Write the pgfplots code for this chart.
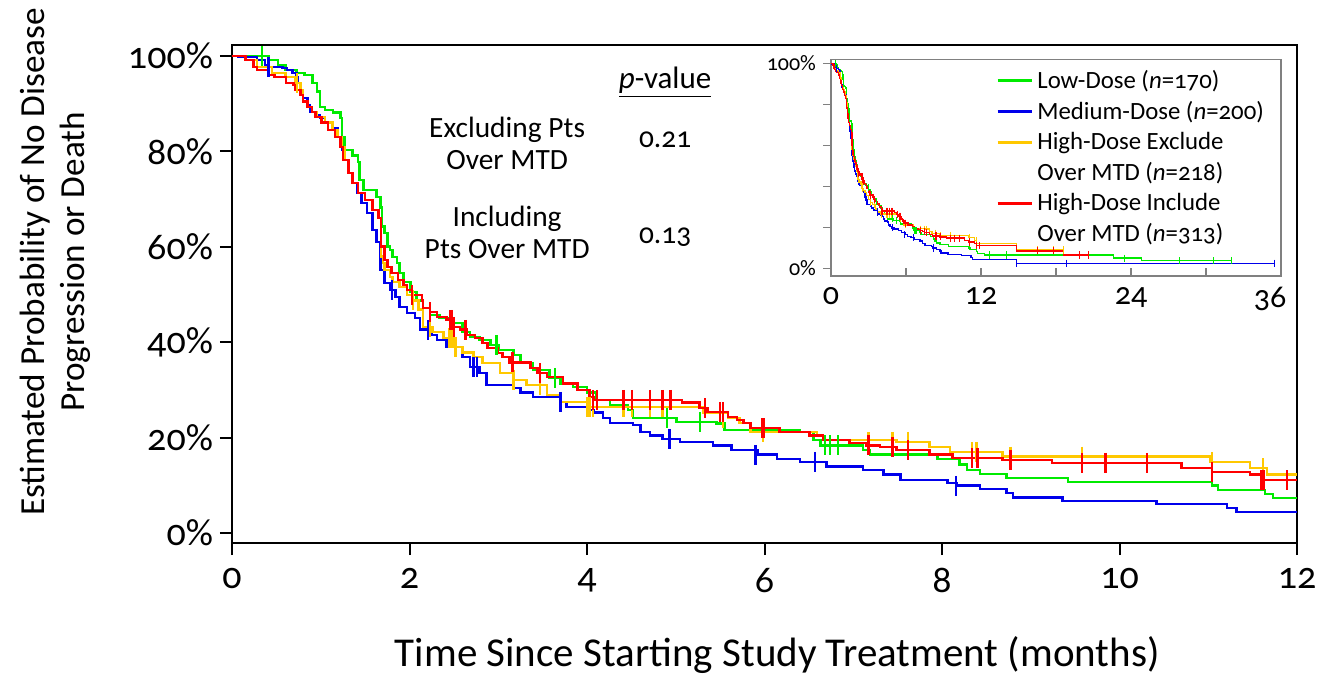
\documentclass[border=0pt]{standalone}
\usepackage{pgfplots}
\pgfplotsset{compat=1.18}
\usepackage{pgfplotstable}
\usepackage{fontspec}
\setmainfont{Carlito}[Numbers=OldStyle]

\definecolor{cLow}{RGB}{0,235,0}
\definecolor{cMed}{RGB}{0,0,235}
\definecolor{cHEx}{RGB}{255,200,0}
\definecolor{cHIn}{RGB}{255,0,0}

% Kaplan-Meier steps: value y holds from x on (months, %)
\pgfplotstableread{
x y
0 100
0.34 100
0.41 99.2
0.52 98.1
0.60 97.1
0.73 96.4
0.82 96.0
0.91 94.3
0.96 92.5
0.99 89.3
1.05 88.7
1.14 88.1
1.22 87.0
1.24 83.0
1.27 80.3
1.36 79.2
1.42 77.8
1.44 74.0
1.48 71.9
1.63 70.4
1.67 68.3
1.69 64.2
1.72 62.9
1.75 60.0
1.78 59.3
1.81 57.9
1.86 56.6
1.89 54.5
1.93 52.6
2.01 50.5
2.08 48.8
2.15 47.2
2.23 45.7
2.34 45.1
2.49 44.0
2.60 42.1
2.68 41.1
2.79 40.5
2.91 39.4
3.00 38.4
3.17 37.3
3.25 35.6
3.39 34.2
3.58 32.5
3.70 31.4
3.84 30.6
4.00 29.4
4.11 27.9
4.26 26.8
4.46 25.8
4.52 24.1
5.01 23.3
5.46 22.9
5.55 21.6
6.40 21.2
6.55 19.5
6.63 18.4
7.11 17.4
7.19 16.4
7.95 15.5
8.20 14.3
8.28 13.2
8.43 12.4
8.73 11.5
9.42 10.7
11.04 9.9
11.11 9.0
11.64 8.2
11.73 7.3
12.00 7.3
12.3 6.5
22.6 4.9
24.85 3.7
32.05 3.7
}\lowKM

\pgfplotstableread{
x y
0 100
0.07 99.8
0.28 99.2
0.37 98.1
0.41 97.7
0.57 97.5
0.62 97.1
0.68 96.4
0.73 95.6
0.74 94.3
0.77 92.9
0.80 91.2
0.85 89.7
0.88 88.3
0.94 87.6
0.99 87.0
1.05 86.0
1.13 84.9
1.19 83.0
1.24 80.3
1.27 78.2
1.31 75.5
1.35 73.4
1.41 71.3
1.46 69.2
1.52 67.1
1.58 63.5
1.63 61.0
1.67 55.1
1.72 52.4
1.78 50.9
1.84 49.5
1.89 47.4
1.97 46.1
2.06 45.1
2.12 42.6
2.25 41.5
2.31 40.5
2.42 39.0
2.60 36.9
2.68 34.8
2.79 33.5
2.87 31.0
3.17 30.4
3.25 29.4
3.39 28.5
3.70 27.5
3.77 26.4
4.00 25.8
4.07 25.2
4.18 24.1
4.26 23.1
4.52 22.6
4.60 21.2
4.71 20.5
4.85 19.7
5.05 19.1
5.42 18.4
5.63 17.4
5.92 16.4
6.14 15.5
6.40 14.9
6.70 14.0
7.11 13.2
7.34 12.2
7.53 11.1
8.06 10.5
8.17 9.9
8.43 9.2
8.73 8.4
8.80 7.5
9.36 6.7
10.42 6.1
11.21 5.2
11.32 4.4
12.00 4.4
14.85 2.4
35.5 2.4
}\medKM

\pgfplotstableread{
x y
0 100
0.15 99.2
0.28 97.7
0.45 96.4
0.60 95.6
0.71 94.3
0.77 92.9
0.80 90.4
0.85 89.3
0.90 88.3
0.96 87.2
1.05 86.0
1.13 84.5
1.19 83.0
1.24 80.9
1.27 78.2
1.31 75.5
1.36 73.4
1.42 71.3
1.50 69.8
1.58 67.7
1.65 66.0
1.68 58.0
1.70 56.6
1.72 55.1
1.78 53.7
1.81 52.6
1.89 51.6
1.97 49.9
2.04 48.8
2.10 46.8
2.15 43.2
2.26 42.1
2.38 40.9
2.49 39.0
2.60 37.9
2.72 36.9
2.82 35.6
3.02 33.5
3.17 32.1
3.32 31.0
3.55 28.9
3.70 27.5
4.00 26.4
5.31 25.2
5.59 24.1
5.72 23.1
5.84 21.2
6.59 20.5
6.66 19.5
7.49 19.1
7.86 18.0
8.09 17.0
8.68 16.0
11.02 14.9
11.47 13.6
11.66 12.2
12.00 12.2
14.85 8.9
18.6 8.9
}\hexKM

\pgfplotstableread{
x y
0 100
0.15 99.2
0.24 97.7
0.28 97.1
0.41 96.0
0.48 95.6
0.61 94.3
0.69 93.9
0.71 92.9
0.77 91.8
0.80 90.4
0.85 89.3
0.90 88.3
0.94 87.2
1.01 86.0
1.08 84.5
1.16 83.0
1.22 80.9
1.25 78.2
1.31 75.5
1.36 73.4
1.42 71.3
1.50 69.8
1.58 67.7
1.65 66.0
1.68 60.0
1.72 57.2
1.75 55.8
1.80 54.5
1.87 53.0
1.93 52.0
1.97 50.9
2.03 49.9
2.14 48.8
2.15 47.2
2.23 46.3
2.31 45.3
2.42 44.7
2.49 43.2
2.57 42.6
2.65 41.5
2.74 40.9
2.82 39.8
2.88 38.8
2.99 37.7
3.05 36.9
3.13 35.8
3.36 34.6
3.44 33.5
3.55 32.7
3.73 31.4
3.89 30.0
4.03 28.5
4.07 27.9
5.07 27.3
5.27 26.2
5.36 25.4
5.59 24.3
5.69 23.7
5.76 23.1
5.84 22.0
6.17 21.2
6.51 20.5
6.66 19.5
6.96 18.9
7.15 18.4
7.30 18.0
7.49 17.4
7.86 16.4
8.12 15.7
8.68 15.3
9.24 14.7
10.70 13.6
11.04 12.8
11.47 12.2
11.62 11.1
12.00 11.1
14.85 8.5
18.6 6.5
20.6 6.5
}\hinKM

% censored observations
\pgfplotstableread{
x y
0.34 100
2.98 39.4
3.64 32.5
4.90 24.1
5.27 23.3
6.68 18.4
6.74 18.4
6.83 18.4
12.7 6.5
14.05 6.5
23.5 4.9
27.9 3.7
30.6 3.7
32.05 3.7
}\lowCens

\pgfplotstableread{
x y
0.41 97.7
1.80 50.9
2.21 42.6
2.72 34.8
2.76 34.8
3.70 27.5
4.93 19.7
5.90 16.4
6.57 14.9
8.16 9.9
14.85 2.4
18.85 2.4
35.5 2.4
}\medCens

\pgfplotstableread{
x y
0.73 94.3
2.04 48.8
2.23 43.2
2.45 40.9
2.48 40.9
2.52 39.0
3.17 32.1
3.47 31.0
4.00 26.4
4.03 26.4
4.07 26.4
4.41 26.4
4.51 26.4
4.71 26.4
4.85 26.4
5.53 24.1
5.98 21.2
7.17 19.1
7.44 19.1
7.62 19.1
8.34 17.0
8.39 17.0
8.77 16.0
9.58 16.0
11.04 14.9
11.62 13.6
16.5 8.9
17.8 8.9
18.6 8.9
}\hexCens

\pgfplotstableread{
x y
2.03 49.9
2.23 46.3
2.46 44.7
2.48 44.7
2.50 43.2
2.63 42.6
3.16 35.8
3.47 33.5
4.07 27.9
4.11 27.9
4.41 27.9
4.51 27.9
4.71 27.9
4.85 27.9
4.94 27.9
5.33 26.2
5.50 25.4
5.53 25.4
5.97 22.0
5.99 22.0
7.17 18.4
7.44 18.0
7.62 17.4
8.34 15.7
8.40 15.7
8.77 15.3
9.58 14.7
9.84 14.7
10.31 14.7
11.04 12.8
11.60 11.1
11.63 11.1
11.89 11.1
16.5 8.5
17.8 8.5
19.9 6.5
20.6 6.5
}\hinCens

\pgfplotsset{
  km/.style={const plot mark left, no markers, line width=1.3pt},
  cens/.style={only marks, mark=|, mark size=5pt, mark options={line width=1.2pt}},
  kmsmall/.style={const plot mark left, no markers, line width=0.7pt, forget plot},
  censsmall/.style={only marks, mark=|, mark size=1.8pt, mark options={line width=0.5pt}, forget plot},
}

\begin{document}
\begin{tikzpicture}
\path[use as bounding box] (-116pt,-69pt) rectangle (552.5pt,271.5pt);

\begin{axis}[
  name=main, at={(0,0)}, anchor=south west,
  scale only axis, width=532.5pt, height=248.75pt,
  xmin=0, xmax=12, ymin=-2.1, ymax=102.2,
  xtick={0,2,...,12}, ytick={0,20,...,100},
  yticklabel={\pgfmathprintnumber{\tick}\%},
  /pgf/number format/assume math mode=true,
  tick align=outside, xtick pos=bottom, ytick pos=left,
  major tick length=6pt,
  axis line style={line width=1pt},
  tick style={line width=1pt, black},
  ticklabel style={font=\fontsize{19}{21}\selectfont},
  xticklabel style={yshift=-3pt},
  xlabel={Time Since Starting Study Treatment (months)},
  xlabel style={at={(axis description cs:0.512,-0.249)}, anchor=base,
    font=\fontsize{20.5}{23}\selectfont},
  ylabel={Estimated Probability of No Disease\\Progression or Death},
  ylabel style={at={(axis description cs:-0.166,0.565)}, anchor=center,
    align=center, font=\fontsize{17.6}{20}\selectfont},
  restrict x to domain=0:12,
]
\addplot[km, cLow] table {\lowKM};
\addplot[km, cMed] table {\medKM};
\addplot[km, cHEx] table {\hexKM};
\addplot[km, cHIn] table {\hinKM};
\addplot[cens, cLow] table {\lowCens};
\addplot[cens, cMed] table {\medCens};
\addplot[cens, cHEx] table {\hexCens};
\addplot[cens, cHIn] table {\hinCens};

\node[font=\fontsize{15.5}{16}\selectfont] at (axis cs:4.88,94.5) {\underline{\textit{p}-value}};
\node[font=\fontsize{14.7}{16}\selectfont, align=center] at (axis cs:3.10,81.6) {Excluding Pts\\Over MTD};
\node[font=\fontsize{14.7}{16}\selectfont] at (axis cs:4.88,82.4) {0.21};
\node[font=\fontsize{14.7}{16}\selectfont, align=center] at (axis cs:3.10,63.1) {Including\\Pts Over MTD};
\node[font=\fontsize{14.7}{16}\selectfont] at (axis cs:4.88,62.1) {0.13};
\end{axis}

\begin{axis}[
  at={(299.5pt,133.5pt)}, anchor=south west,
  scale only axis, width=225pt, height=108.3pt,
  xmin=0, xmax=36, ymin=-3.8, ymax=102,
  xtick={0,12,24,36}, minor xtick={6,18,30},
  xticklabels={0,12,24,{\hspace*{-11pt}36}},
  ytick={0,20,...,100}, yticklabels={0\%,,,,,100\%},
  /pgf/number format/assume math mode=true,
  xtick pos=bottom, ytick pos=left,
  xtick align=inside, ytick align=outside,
  major tick length=4pt, minor tick length=4pt,
  axis line style={gray, line width=0.6pt},
  tick style={gray, line width=0.6pt},
  xticklabel style={font=\fontsize{16}{18}\selectfont, yshift=-2pt},
  yticklabel style={font=\fontsize{11}{12}\selectfont},
  axis background/.style={fill=white},
  legend style={at={(0.985,0.99)}, anchor=north east, draw=none, fill=none,
    font=\fontsize{12.4}{13}\selectfont, row sep=1pt},
  legend cell align=left,
]
\addplot[kmsmall, cLow] table {\lowKM};
\addplot[kmsmall, cMed] table {\medKM};
\addplot[kmsmall, cHEx] table {\hexKM};
\addplot[kmsmall, cHIn] table {\hinKM};
\addplot[censsmall, cLow] table {\lowCens};
\addplot[censsmall, cMed] table {\medCens};
\addplot[censsmall, cHEx] table {\hexCens};
\addplot[censsmall, cHIn] table {\hinCens};

\addlegendimage{cLow, line width=1.5pt}
\addlegendentry{Low-Dose (\textit{n}=170)}
\addlegendimage{cMed, line width=1.5pt}
\addlegendentry{Medium-Dose (\textit{n}=200)}
\addlegendimage{cHEx, line width=1.5pt}
\addlegendentry{High-Dose Exclude}
\addlegendimage{empty legend}
\addlegendentry{Over MTD (\textit{n}=218)}
\addlegendimage{cHIn, line width=1.5pt}
\addlegendentry{High-Dose Include}
\addlegendimage{empty legend}
\addlegendentry{Over MTD (\textit{n}=313)}
\end{axis}
\end{tikzpicture}
\end{document}
